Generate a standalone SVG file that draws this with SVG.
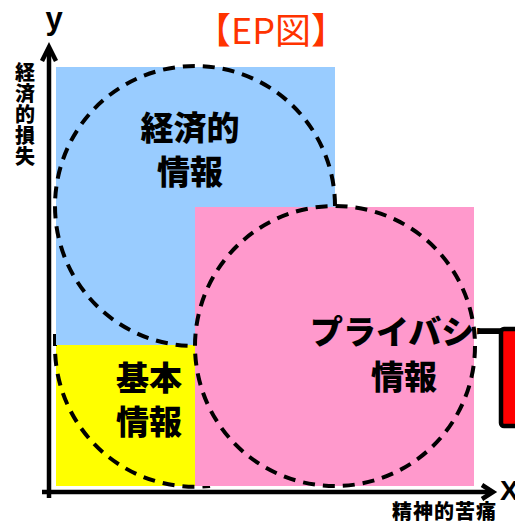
<svg xmlns="http://www.w3.org/2000/svg" width="515" height="525" viewBox="0 0 515 525">
<style>
.jp{font-family:"Noto Sans CJK JP","Noto Sans CJK SC",sans-serif;font-weight:900;fill:#000}
.big{font-size:33px}
.small{font-size:20px}
.dash{fill:none;stroke:#000;stroke-width:4;stroke-dasharray:12 8}
.axis{fill:none;stroke:#000;stroke-width:4.5;stroke-linecap:butt}
</style>
<rect width="515" height="525" fill="#fff"/>
<g id="basic">
<rect x="56" y="345" width="139" height="141" fill="#ffff00"/>
<path class="dash" d="M55,334 L55,346 A140,140 0 0 0 210,486"/>
<text class="jp big" x="149" y="390" text-anchor="middle">基本</text>
<text class="jp big" x="149" y="434" text-anchor="middle">情報</text>
</g>
<g id="economic">
<rect x="56" y="67" width="279" height="278" fill="#99ccff"/>
<path class="dash" d="M335,206 A140,140 0 1 0 195,346"/>
<text class="jp big" x="190" y="140" text-anchor="middle">経済的</text>
<text class="jp big" x="190" y="184" text-anchor="middle">情報</text>
</g>
<g id="privacy">
<rect x="195" y="207" width="279" height="279" fill="#ff99cc"/>
<circle class="dash" cx="335" cy="346" r="140"/>
<text class="jp big" x="310" y="344">プライバシー</text>
<text class="jp big" x="404" y="389" text-anchor="middle">情報</text>
</g>
<g id="redbox">
<rect x="501" y="329" width="40" height="97" rx="3" fill="#ff0000" stroke="#000" stroke-width="4.5"/>
</g>
<g id="connectors">
<line class="axis" x1="49" y1="48" x2="49" y2="498"/>
<polyline class="axis" points="42,61 49,47 56,61"/>
<line class="axis" x1="42" y1="492" x2="492" y2="492"/>
<polyline class="axis" points="482,485 493,492 482,499"/>
</g>
<g id="labels">
<text x="271" y="44" text-anchor="middle" font-family="'Noto Sans CJK JP','Noto Sans CJK SC',sans-serif" font-size="36" fill="#ff3300">【EP図】</text>
<text x="54" y="29" text-anchor="middle" font-family="'Liberation Sans',Arial,sans-serif" font-weight="bold" font-size="31">y</text>
<text x="500" y="500" font-family="'Liberation Sans',Arial,sans-serif" font-weight="bold" font-size="28">X</text>
<text class="jp small" x="25" y="62" style="writing-mode:vertical-rl" letter-spacing="1">経済的損失</text>
<text class="jp small" x="392" y="519" letter-spacing="1">精神的苦痛</text>
</g>
</svg>
